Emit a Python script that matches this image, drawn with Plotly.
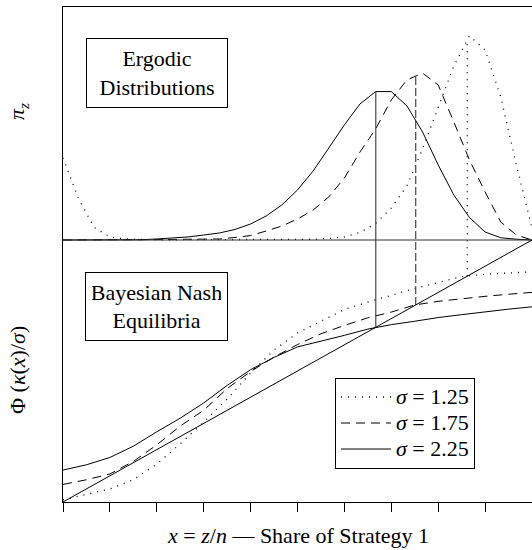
import numpy as np
import plotly.graph_objects as go

# ---------------- data ----------------
n_players = 30
z_states = list(range(n_players + 1))          # z = 0..n

sigmas = ["1.25", "1.75", "2.25"]

# ergodic distributions pi_z (in percent)
pi_sigma_125 = [6.46, 3.23, 0.98, 0.24, 0.08, 0.04, 0.02, 0.02, 0.02, 0.02,
                0.02, 0.02, 0.02, 0.02, 0.02, 0.03, 0.06, 0.12, 0.24, 0.59,
                1.30, 2.52, 4.25, 7.17, 10.39, 13.70, 16.06, 14.96, 11.26, 5.91,
                0.94]
pi_sigma_175 = [0.00, 0.00, 0.00, 0.00, 0.01, 0.02, 0.02, 0.04, 0.06, 0.07,
                0.08, 0.20, 0.35, 0.71, 1.10, 1.65, 2.36, 3.39, 4.88, 6.93,
                8.74, 11.02, 12.60, 13.13, 12.20, 9.29, 6.30, 3.78, 1.42, 0.39,
                0.00]
pi_sigma_225 = [0.00, 0.00, 0.00, 0.00, 0.00, 0.02, 0.08, 0.16, 0.24, 0.39,
                0.55, 0.83, 1.26, 1.89, 2.76, 3.94, 5.43, 7.24, 9.06, 10.71,
                11.68, 11.68, 10.55, 8.50, 5.91, 3.54, 1.77, 0.63, 0.18, 0.06,
                0.00]

# Bayesian Nash equilibria: Phi(kappa(x)/sigma)
x_phi = [0.00, 0.05, 0.10, 0.15, 0.20, 0.25, 0.30, 0.35, 0.40, 0.45, 0.50,
         0.55, 0.60, 0.65, 0.70, 0.75, 0.80, 0.85, 0.90, 0.95, 1.00]
phi_sigma_125 = [0.008, 0.030, 0.050, 0.085, 0.145, 0.222, 0.305, 0.393, 0.493,
                 0.580, 0.645, 0.690, 0.735, 0.763, 0.790, 0.815, 0.838, 0.860,
                 0.869, 0.875, 0.879]
phi_sigma_175 = [0.067, 0.085, 0.107, 0.155, 0.218, 0.290, 0.350, 0.433, 0.498,
                 0.553, 0.601, 0.642, 0.674, 0.703, 0.725, 0.752, 0.766, 0.776,
                 0.785, 0.793, 0.800]
phi_sigma_225 = [0.122, 0.142, 0.170, 0.213, 0.268, 0.320, 0.378, 0.445, 0.505,
                 0.552, 0.592, 0.613, 0.636, 0.660, 0.677, 0.690, 0.704, 0.715,
                 0.726, 0.736, 0.745]

# stable equilibria (where Phi crosses the 45-degree line)
eq_sigma = [0.862, 0.752, 0.667]

diag = [0.0, 1.0]

# ---------------- styling constants ----------------
PI_OFFSET = 1.0
PI_SCALE = 4.85          # vertical scale of pi (probability units -> axis units)
FONT = "Liberation Serif"

styles = {
    "1.25": dict(dash="1px,6px", width=1.3, vdash="1px,6px", vcolor="#000"),
    "1.75": dict(dash="9px,6px", width=1.0, vdash="8px,3px", vcolor="#555"),
    "2.25": dict(dash="solid", width=1.0, vdash="solid", vcolor="#222"),
}

pis = [pi_sigma_125, pi_sigma_175, pi_sigma_225]
phis = [phi_sigma_125, phi_sigma_175, phi_sigma_225]

x_states = np.array(z_states) / n_players

fig = go.Figure()

for s, pi, phi, eq in zip(sigmas, pis, phis, eq_sigma):
    st = styles[s]
    pi_arr = np.array(pi) / 100.0
    y_pi = PI_OFFSET + pi_arr * PI_SCALE
    fig.add_trace(go.Scatter(
        x=x_phi, y=phi, mode="lines",
        name=f'<span style="font-size:22px"><i>σ</i> = {s}</span>',
        legendgroup=s,
        line=dict(color="black", width=st["width"], dash=st["dash"])))
    fig.add_trace(go.Scatter(
        x=x_states, y=y_pi, mode="lines", showlegend=False, legendgroup=s,
        line=dict(color="black", width=st["width"], dash=st["dash"])))
    top = PI_OFFSET + float(np.interp(eq, x_states, pi_arr)) * PI_SCALE
    fig.add_trace(go.Scatter(
        x=[eq, eq], y=[eq, top], mode="lines", showlegend=False,
        legendgroup=s,
        line=dict(color=st["vcolor"], width=1.3 if s != "2.25" else 1.0,
                  dash=st["vdash"])))

fig.add_trace(go.Scatter(x=diag, y=diag, mode="lines", showlegend=False,
                         line=dict(color="black", width=1)))

fig.add_shape(type="line", xref="x", yref="y", x0=0, x1=1,
              y0=PI_OFFSET, y1=PI_OFFSET, line=dict(color="#333", width=1))

W, H = 532, 550
L, R, T, B = 63, 0, 7, 48
fig.update_layout(
    width=W, height=H,
    margin=dict(l=L, r=R, t=T, b=B, pad=0),
    paper_bgcolor="white", plot_bgcolor="white",
    font=dict(family=FONT, size=22, color="black"),
    showlegend=True,
    legend=dict(x=(335 - L) / (W - L - R), y=(502 - 378) / (H - T - B),
                xanchor="left", yanchor="top",
                bordercolor="black", borderwidth=1, bgcolor="white",
                font=dict(family=FONT, size=17.7), itemwidth=50,
                tracegroupgap=0),
)
fig.update_xaxes(range=[0, 1], showline=True, mirror=True, linecolor="black",
                 linewidth=1, showgrid=False, zeroline=False,
                 ticks="outside", ticklen=9, tickcolor="black", tickwidth=1,
                 tick0=0, dtick=0.1, showticklabels=False)
fig.update_yaxes(range=[0, (502 - 7) / 262], showline=True, mirror=False,
                 linecolor="black", linewidth=1, showgrid=False,
                 zeroline=False, ticks="", showticklabels=False)

ann_font = dict(family=FONT, size=22, color="black")
fig.add_annotation(x=(157.5 - L) / 470, y=(502 - 72.5) / 262, xref="x", yref="y",
                   text="Ergodic<br>Distributions", showarrow=False,
                   bordercolor="black", borderwidth=1, borderpad=6,
                   width=128, height=56, font=ann_font, bgcolor="white")
fig.add_annotation(x=(157 - L) / 470, y=(502 - 306) / 262, xref="x", yref="y",
                   text="Bayesian Nash<br>Equilibria", showarrow=False,
                   bordercolor="black", borderwidth=1, borderpad=6,
                   width=129, height=55, font=ann_font, bgcolor="white")
fig.add_annotation(x=(18 - L) / (W - L - R), y=(502 - 112) / 262,
                   xref="paper", yref="y", text="<i>π<sub>z</sub></i>",
                   xanchor="center", yanchor="middle",
                   textangle=-90, showarrow=False, font=ann_font)
fig.add_annotation(x=(17 - L) / (W - L - R), y=(502 - 370) / 262,
                   xref="paper", yref="y",
                   xanchor="center", yanchor="middle",
                   text="Φ (<i>κ</i>(<i>x</i>)/<i>σ</i>)",
                   textangle=-90, showarrow=False, font=ann_font)
fig.add_annotation(x=0.5, y=(502 - 535) / (H - T - B), xref="paper",
                   yref="paper", xanchor="center", yanchor="middle",
                   text="<i>x</i> = <i>z</i>/<i>n</i> — Share of Strategy 1",
                   showarrow=False, font=ann_font)

fig.write_html("out.html", config={"displayModeBar": False},
               post_script="document.body.style.margin='0';")
